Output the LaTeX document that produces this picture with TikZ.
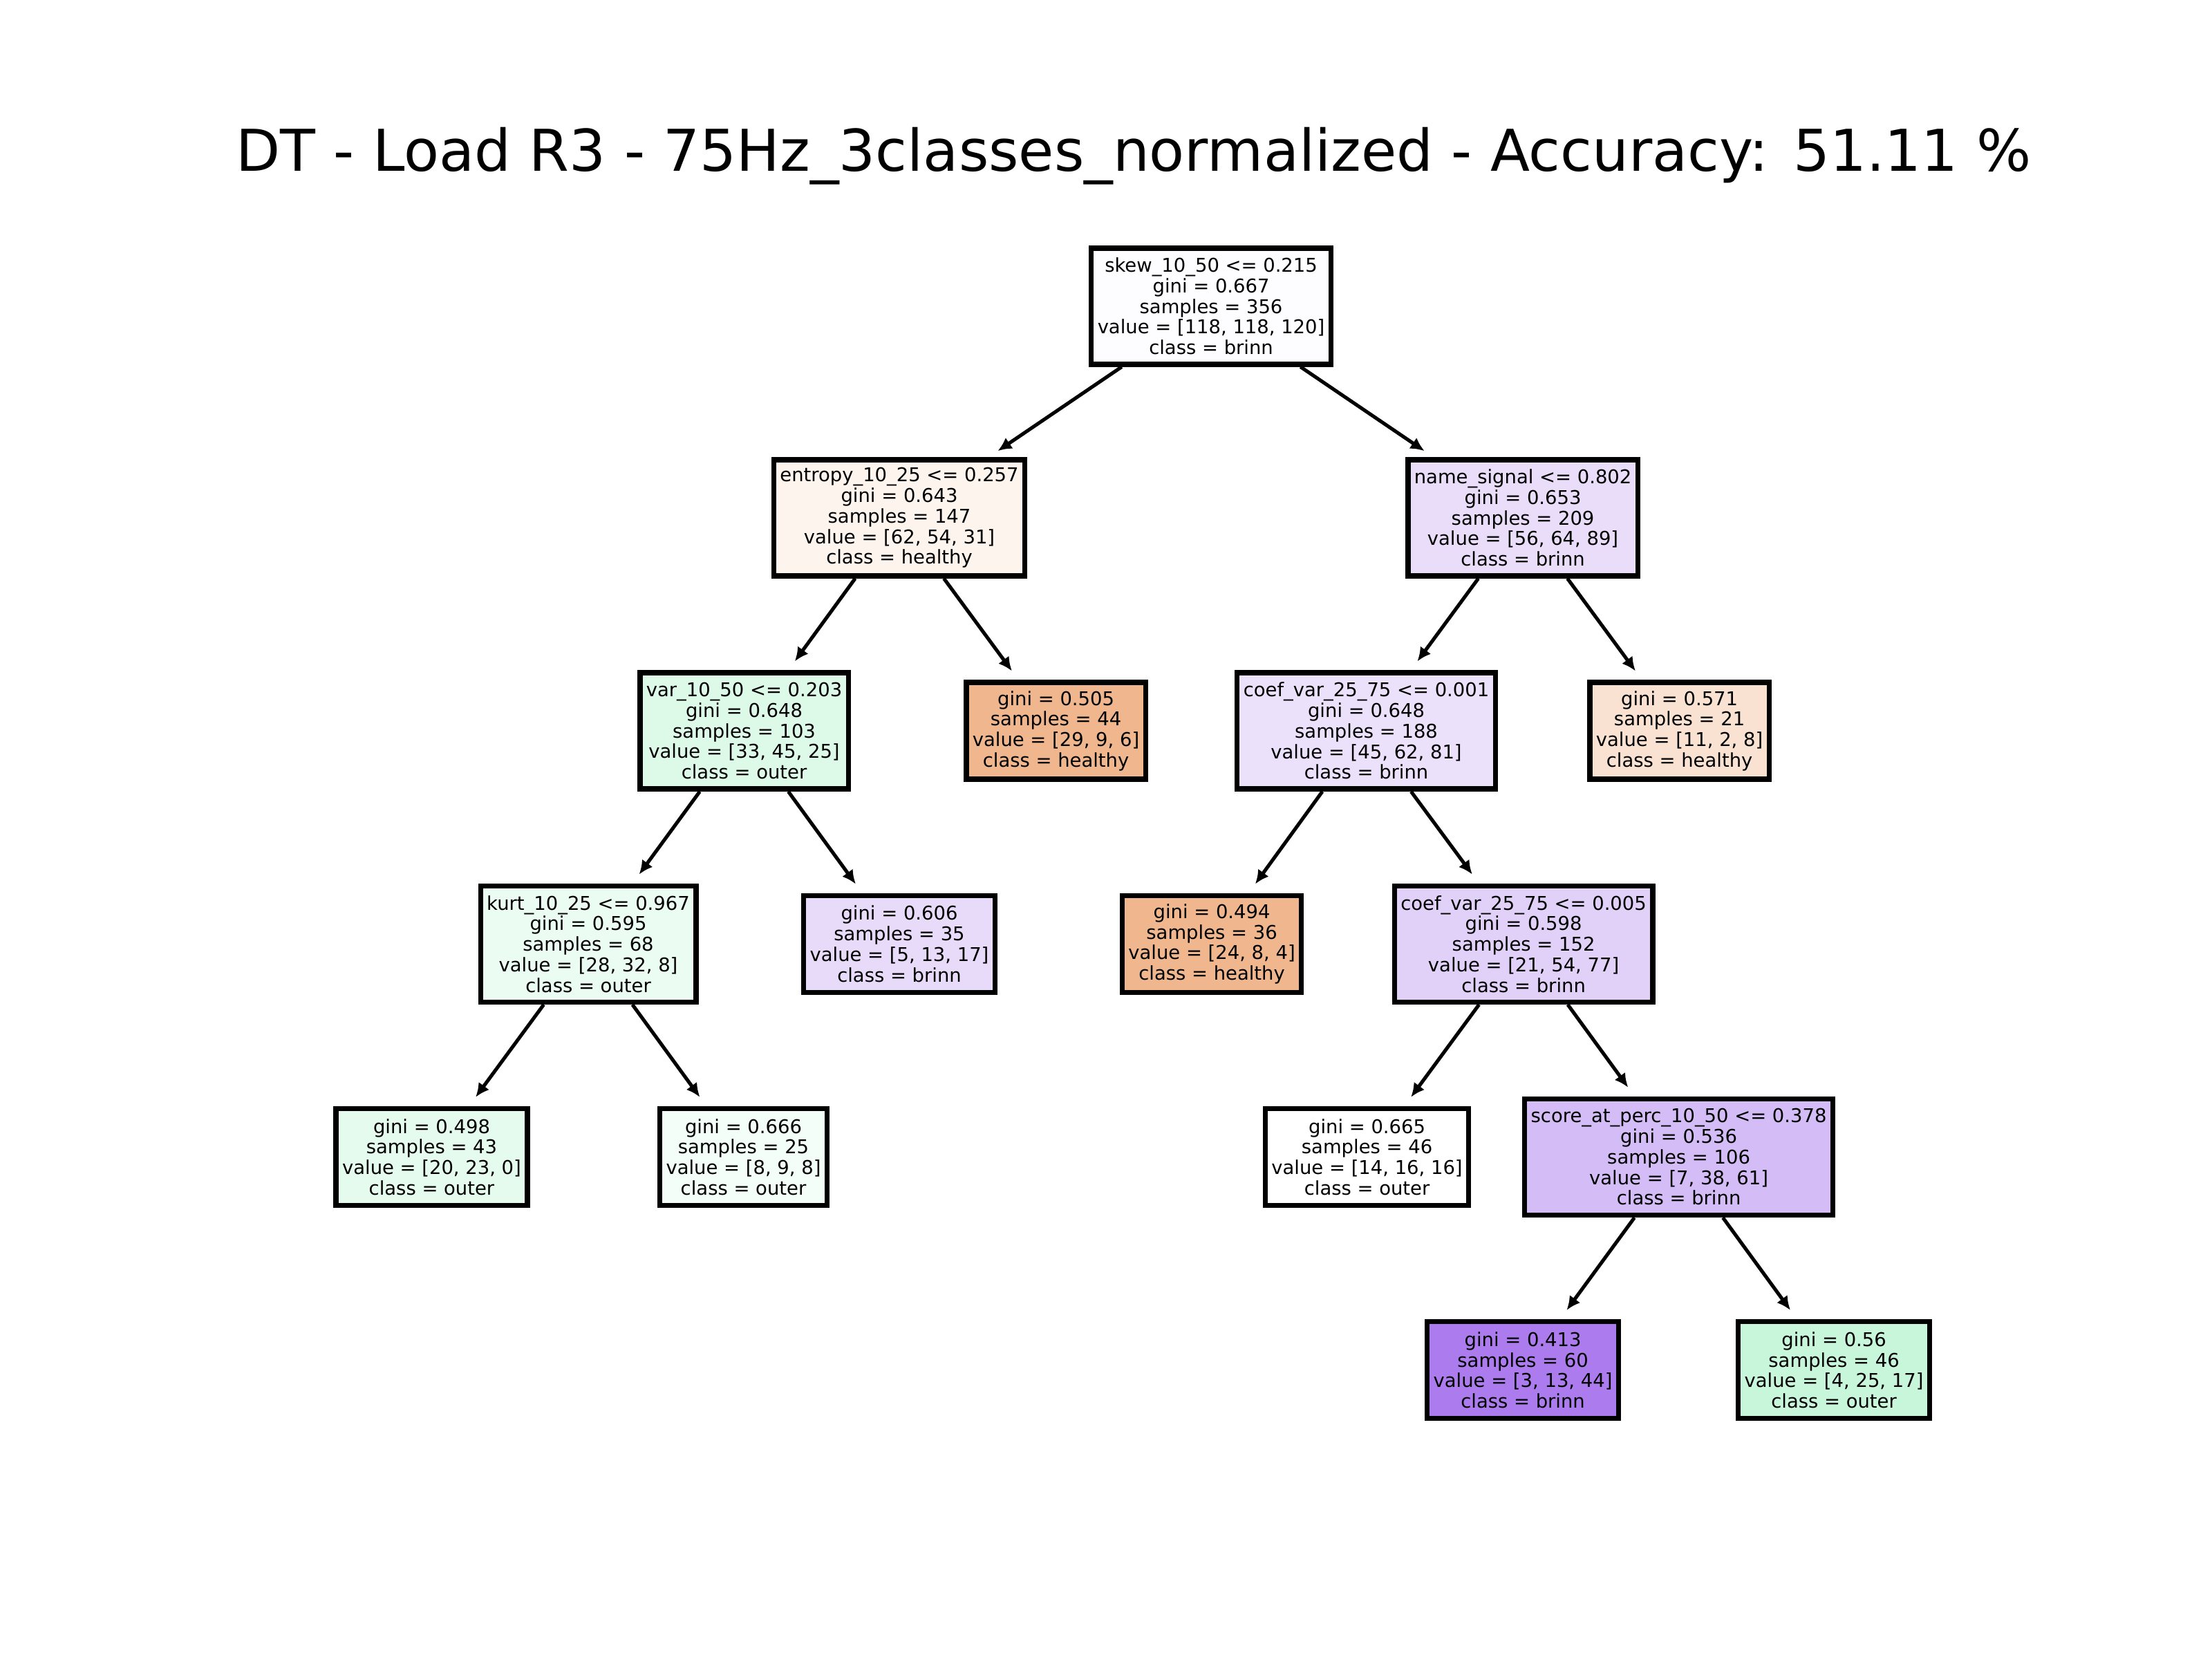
\documentclass[tikz,border=0pt]{standalone}
\usepackage{fontspec}
\setmainfont{DejaVu Sans}
\usetikzlibrary{arrows.meta}
\definecolor{cRoot}{RGB}{253,253,255}
\definecolor{cEnt}{RGB}{253,244,237}
\definecolor{cName}{RGB}{233,221,250}
\definecolor{cVar}{RGB}{221,250,233}
\definecolor{cGa}{RGB}{240,183,142}
\definecolor{cCoefA}{RGB}{236,225,251}
\definecolor{cGb}{RGB}{249,226,209}
\definecolor{cKurt}{RGB}{235,252,242}
\definecolor{cGc}{RGB}{232,219,250}
\definecolor{cGd}{RGB}{240,183,142}
\definecolor{cCoefB}{RGB}{225,209,249}
\definecolor{cGe}{RGB}{229,251,238}
\definecolor{cGf}{RGB}{243,254,248}
\definecolor{cGg}{RGB}{255,255,255}
\definecolor{cScore}{RGB}{212,188,246}
\definecolor{cGh}{RGB}{172,124,238}
\definecolor{cGi}{RGB}{200,246,219}
\begin{document}
\begin{tikzpicture}[x=0.020408cm,y=-0.020408cm,
  tn/.style={draw=black, line width=2.1pt, align=center, inner xsep=0.09cm, inner ysep=0pt,
    font=\fontsize{7.8}{8.46}\selectfont, minimum height=1.68cm},
  lf/.style={tn, minimum height=1.40cm},
  edge/.style={line width=1.45pt, -{Latex[length=0.2cm,width=0.19cm]}, shorten >=0.16cm},
  ttl/.style={font=\fontsize{23.7}{28}\selectfont, anchor=base, inner sep=0pt}]
\useasboundingbox[fill=white] (0,0) rectangle (1568,1176);
\node[ttl] (title) at (803.5,121.5) {DT - Load R3 - 75Hz\_3classes\_normalized - Accuracy: 51.11 \%};

\node[tn, fill=cRoot] (root) at (858.5,217) {skew\_10\_50 <= 0.215\\gini = 0.667\\samples = 356\\value = [118, 118, 120]\\class = brinn};
\node[tn, fill=cEnt] (ent) at (637.5,367) {entropy\_10\_25 <= 0.257\\gini = 0.643\\samples = 147\\value = [62, 54, 31]\\class = healthy};
\node[tn, fill=cName] (name) at (1079.5,367) {name\_signal <= 0.802\\gini = 0.653\\samples = 209\\value = [56, 64, 89]\\class = brinn};
\node[tn, fill=cVar] (var) at (527.5,518) {var\_10\_50 <= 0.203\\gini = 0.648\\samples = 103\\value = [33, 45, 25]\\class = outer};
\node[lf, fill=cGa] (ga) at (748.5,518) {gini = 0.505\\samples = 44\\value = [29, 9, 6]\\class = healthy};
\node[tn, fill=cCoefA] (coefa) at (968.5,518) {coef\_var\_25\_75 <= 0.001\\gini = 0.648\\samples = 188\\value = [45, 62, 81]\\class = brinn};
\node[lf, fill=cGb] (gb) at (1190.5,518) {gini = 0.571\\samples = 21\\value = [11, 2, 8]\\class = healthy};
\node[tn, fill=cKurt] (kurt) at (417,669) {kurt\_10\_25 <= 0.967\\gini = 0.595\\samples = 68\\value = [28, 32, 8]\\class = outer};
\node[lf, fill=cGc] (gc) at (637.5,669) {gini = 0.606\\samples = 35\\value = [5, 13, 17]\\class = brinn};
\node[lf, fill=cGd] (gd) at (859,669) {gini = 0.494\\samples = 36\\value = [24, 8, 4]\\class = healthy};
\node[tn, fill=cCoefB] (coefb) at (1080,669) {coef\_var\_25\_75 <= 0.005\\gini = 0.598\\samples = 152\\value = [21, 54, 77]\\class = brinn};
\node[lf, fill=cGe] (ge) at (306,820) {gini = 0.498\\samples = 43\\value = [20, 23, 0]\\class = outer};
\node[lf, fill=cGf] (gf) at (527,820) {gini = 0.666\\samples = 25\\value = [8, 9, 8]\\class = outer};
\node[lf, fill=cGg] (gg) at (969,820) {gini = 0.665\\samples = 46\\value = [14, 16, 16]\\class = outer};
\node[tn, fill=cScore] (score) at (1190,820) {score\_at\_perc\_10\_50 <= 0.378\\gini = 0.536\\samples = 106\\value = [7, 38, 61]\\class = brinn};
\node[lf, fill=cGh] (gh) at (1079.5,971) {gini = 0.413\\samples = 60\\value = [3, 13, 44]\\class = brinn};
\node[lf, fill=cGi] (gi) at (1300,971) {gini = 0.56\\samples = 46\\value = [4, 25, 17]\\class = outer};

\draw[edge] (root) -- (ent);
\draw[edge] (root) -- (name);
\draw[edge] (ent) -- (var);
\draw[edge] (ent) -- (ga);
\draw[edge] (name) -- (coefa);
\draw[edge] (name) -- (gb);
\draw[edge] (var) -- (kurt);
\draw[edge] (var) -- (gc);
\draw[edge] (coefa) -- (gd);
\draw[edge] (coefa) -- (coefb);
\draw[edge] (kurt) -- (ge);
\draw[edge] (kurt) -- (gf);
\draw[edge] (coefb) -- (gg);
\draw[edge] (coefb) -- (score);
\draw[edge] (score) -- (gh);
\draw[edge] (score) -- (gi);
\end{tikzpicture}
\end{document}
